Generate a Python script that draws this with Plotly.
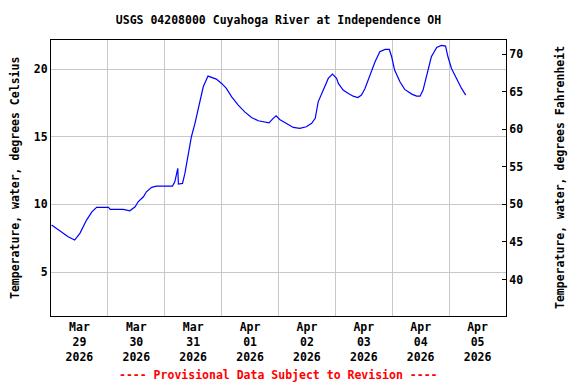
import plotly.graph_objects as go

# ---- data ----
times = [
    "2026-03-29 00:15", "2026-03-29 03:45", "2026-03-29 07:15", "2026-03-29 10:00",
    "2026-03-29 12:15", "2026-03-29 15:00", "2026-03-29 17:15", "2026-03-29 19:15",
    "2026-03-30 00:15", "2026-03-30 01:00", "2026-03-30 06:30", "2026-03-30 09:15",
    "2026-03-30 11:30", "2026-03-30 12:45", "2026-03-30 15:00", "2026-03-30 16:15",
    "2026-03-30 18:30", "2026-03-30 20:30", "2026-03-31 03:15", "2026-03-31 04:15",
    "2026-03-31 05:30", "2026-03-31 05:45", "2026-03-31 07:30", "2026-03-31 08:30",
    "2026-03-31 10:00", "2026-03-31 11:15", "2026-03-31 12:45", "2026-03-31 14:30",
    "2026-03-31 16:15", "2026-03-31 18:15", "2026-03-31 19:45", "2026-03-31 21:45",
    "2026-04-01 00:00", "2026-04-01 02:00", "2026-04-01 04:15", "2026-04-01 07:00",
    "2026-04-01 09:45", "2026-04-01 12:45", "2026-04-01 15:30", "2026-04-01 18:15",
    "2026-04-01 20:00", "2026-04-01 21:45", "2026-04-01 23:00", "2026-04-02 00:30",
    "2026-04-02 03:30", "2026-04-02 06:15", "2026-04-02 09:00", "2026-04-02 11:45",
    "2026-04-02 14:00", "2026-04-02 15:30", "2026-04-02 16:45", "2026-04-02 19:00",
    "2026-04-02 21:00", "2026-04-02 22:45", "2026-04-03 00:30", "2026-04-03 01:15",
    "2026-04-03 03:15", "2026-04-03 05:30", "2026-04-03 07:30", "2026-04-03 09:30",
    "2026-04-03 11:00", "2026-04-03 12:30", "2026-04-03 14:30", "2026-04-03 16:45",
    "2026-04-03 18:45", "2026-04-03 21:00", "2026-04-03 22:45", "2026-04-03 23:45",
    "2026-04-04 01:00", "2026-04-04 03:15", "2026-04-04 05:15", "2026-04-04 08:15",
    "2026-04-04 10:15", "2026-04-04 11:45", "2026-04-04 13:00", "2026-04-04 14:45",
    "2026-04-04 16:30", "2026-04-04 18:45", "2026-04-04 20:45", "2026-04-04 22:30",
    "2026-04-04 23:30", "2026-04-05 01:00", "2026-04-05 03:00", "2026-04-05 05:15",
    "2026-04-05 07:00",
]
temp_c = [
    8.47, 8.05, 7.60, 7.36,
    7.88, 8.84, 9.45, 9.78,
    9.78, 9.63, 9.63, 9.53,
    9.82, 10.19, 10.56, 10.93,
    11.26, 11.35, 11.35, 11.67,
    12.66, 11.50, 11.55, 12.29,
    13.77, 15.00, 15.99, 17.40,
    18.69, 19.48, 19.39, 19.26,
    18.94, 18.57, 17.95, 17.34,
    16.84, 16.40, 16.18, 16.06,
    16.03, 16.36, 16.55, 16.28,
    15.94, 15.69, 15.62, 15.74,
    15.99, 16.36, 17.58, 18.57,
    19.31, 19.63, 19.31, 18.94,
    18.45, 18.20, 18.00, 17.90,
    18.08, 18.57, 19.56, 20.54,
    21.28, 21.45, 21.45, 20.91,
    19.93, 19.06, 18.50, 18.15,
    18.00, 18.00, 18.45, 19.68,
    20.91, 21.60, 21.75, 21.70,
    20.91, 20.05, 19.31, 18.57,
    18.08,
]

tick_vals = ["2026-03-29 12:00", "2026-03-30 12:00", "2026-03-31 12:00", "2026-04-01 12:00",
             "2026-04-02 12:00", "2026-04-03 12:00", "2026-04-04 12:00", "2026-04-05 12:00"]
tick_text = ["Mar<br>29<br>2026", "Mar<br>30<br>2026", "Mar<br>31<br>2026", "Apr<br>01<br>2026",
             "Apr<br>02<br>2026", "Apr<br>03<br>2026", "Apr<br>04<br>2026", "Apr<br>05<br>2026"]
x_range = ["2026-03-29 00:00", "2026-04-06 00:00"]
c_range = [1.75, 22.15]
c_ticks = [5, 10, 15, 20]
f_ticks = [40, 45, 50, 55, 60, 65, 70]
f_range = [c * 9 / 5 + 32 for c in c_range]

title_text = "USGS 04208000 Cuyahoga River at Independence OH"
left_title = "Temperature, water, degrees Celsius"
right_title = "Temperature, water, degrees Fahrenheit"
note_text = "---- Provisional Data Subject to Revision ----"

FONT = "DejaVu Sans Mono"
FS = 11.5

fig = go.Figure()
fig.add_trace(go.Scatter(
    x=times, y=temp_c, mode="lines",
    line=dict(color="#0000FF", width=1.2),
    hoverinfo="skip", showlegend=False,
))
# invisible trace to activate the Fahrenheit axis
fig.add_trace(go.Scatter(
    x=[times[0]], y=[temp_c[0] * 9 / 5 + 32], mode="lines", yaxis="y2",
    line=dict(color="rgba(0,0,0,0)"), hoverinfo="skip", showlegend=False,
))

fig.update_layout(
    width=576, height=384,
    margin=dict(l=51, r=70, t=40, b=68),
    paper_bgcolor="white", plot_bgcolor="white",
    font=dict(family=FONT, size=FS, color="black", weight="bold"),
    title=dict(text=title_text, x=(51 + 506) / 2 / 576, xanchor="center",
               y=1 - 20 / 384, yanchor="middle",
               font=dict(family=FONT, size=FS, color="black", weight="bold")),
    xaxis=dict(
        type="date", range=x_range, tickmode="array", tickvals=tick_vals, ticktext=tick_text,
        showgrid=False, ticks="", showline=True, linecolor="black", linewidth=1, mirror=True,
        tickfont=dict(family=FONT, size=FS, color="black", weight="bold"),
        minor=dict(dtick=86400000, tick0="2026-03-29", showgrid=True,
                   gridcolor="#C8C8C8", gridwidth=1, ticks=""),
        zeroline=False, automargin=False,
    ),
    yaxis=dict(
        range=c_range, tickmode="array", tickvals=c_ticks, showgrid=True,
        gridcolor="#C8C8C8", gridwidth=1, ticks="", showline=True, linecolor="black",
        linewidth=1, mirror=True, zeroline=False, automargin=False,
        tickfont=dict(family=FONT, size=FS, color="black", weight="bold"),
    ),
    yaxis2=dict(
        range=f_range, overlaying="y", side="right", tickmode="array", tickvals=f_ticks,
        showgrid=False, ticks="inside", ticklen=4, tickcolor="black", showline=True,
        linecolor="black", zeroline=False, automargin=False,
        tickfont=dict(family=FONT, size=FS, color="black", weight="bold"),
    ),
    annotations=[
        dict(text=left_title, xref="paper", yref="paper", x=(15 - 51) / 455, y=0.5,
             xanchor="center", yanchor="middle", textangle=-90, showarrow=False,
             font=dict(family=FONT, size=FS, color="black", weight="bold")),
        dict(text=right_title, xref="paper", yref="paper", x=(560 - 51) / 455, y=0.5,
             xanchor="center", yanchor="middle", textangle=-90, showarrow=False,
             font=dict(family=FONT, size=FS, color="black", weight="bold")),
        dict(text=note_text, xref="paper", yref="paper", x=0.5, y=-(375 - 316) / 276,
             xanchor="center", yanchor="middle", showarrow=False,
             font=dict(family=FONT, size=FS, color="#FF0000", weight="bold")),
    ],
)

fig.write_html(
    "out.html",
    config={"displayModeBar": False},
    post_script="document.body.style.margin='0';document.body.style.overflow='hidden';",
)
